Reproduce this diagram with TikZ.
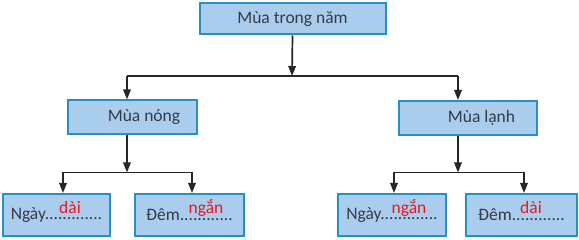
\documentclass[tikz,border=0pt]{standalone}
\usepackage{fontspec}
\setmainfont{Carlito}
\usetikzlibrary{arrows.meta}
\definecolor{boxfill}{HTML}{AACDEE}
\definecolor{boxline}{HTML}{2A8DC4}
\definecolor{txt}{HTML}{363A45}
\definecolor{ans}{HTML}{F0141E}
\tikzset{
  box/.style={draw=boxline, line width=2pt, fill=boxfill, inner sep=0pt, text=txt, font=\fontsize{17.5}{19}\selectfont},
  lowbox/.style={box, minimum height=42pt, font=\fontsize{17.5}{19}\selectfont},
  arr/.style={draw=black!85, line width=1.7pt, -{Triangle[length=10pt,width=7.5pt]}},
  ln/.style={draw=black!85, line width=1.7pt},
  answer/.style={text=ans, font=\fontsize{17.5}{19}\selectfont, inner sep=0pt, anchor=base}
}
\begin{document}
\begin{tikzpicture}[x=1pt,y=-1pt]
\useasboundingbox (0,0) rectangle (579,240);
% boxes
\node[box, minimum width=186pt, minimum height=31pt] (top) at (292.5,19) {Mùa trong năm};
\node[box, minimum width=129pt, minimum height=34pt] (nong) at (132,117.5) {\hspace*{24pt}Mùa nóng};
\node[box, minimum width=138pt, minimum height=34pt] (lanh) at (467.5,118) {\hspace*{28pt}Mùa lạnh};
\node[lowbox, minimum width=107pt] (ng1) at (56.5,215) {Ngày.............};
\node[lowbox, minimum width=109pt] (de1) at (189.5,215) {Đêm............};
\node[lowbox, minimum width=108pt] (ng2) at (392,215) {Ngày.............};
\node[lowbox, minimum width=111pt] (de2) at (521.5,215) {Đêm............};
% answers
\node[answer] (a1) at (70,214) {dài};
\node[answer] (a2) at (206,214) {ngắn};
\node[answer] (a3) at (409,214) {ngắn};
\node[answer] (a4) at (531,214) {dài};
% junctions
\coordinate (j0) at (292,76);
\coordinate (jL) at (127,76);
\coordinate (jR) at (458,76);
\coordinate (k1) at (127,172.5);
\coordinate (k1a) at (63,172.5);
\coordinate (k1b) at (192,172.5);
\coordinate (k2) at (458,172.5);
\coordinate (k2a) at (394,172.5);
\coordinate (k2b) at (524,172.5);
% connectors
\draw[arr] (top.south) -- (j0);
\draw[ln] (jL) -- (jR);
\draw[arr] (jL) -- (jL |- nong.north);
\draw[arr] (jR) -- (jR |- lanh.north);
\draw[arr] (k1 |- nong.south) -- (k1);
\draw[ln] (k1a) -- (k1b);
\draw[arr] (k1a) -- (k1a |- ng1.north);
\draw[arr] (k1b) -- (k1b |- de1.north);
\draw[arr] (k2 |- lanh.south) -- (k2);
\draw[ln] (k2a) -- (k2b);
\draw[arr] (k2a) -- (k2a |- ng2.north);
\draw[arr] (k2b) -- (k2b |- de2.north);
\end{tikzpicture}
\end{document}
